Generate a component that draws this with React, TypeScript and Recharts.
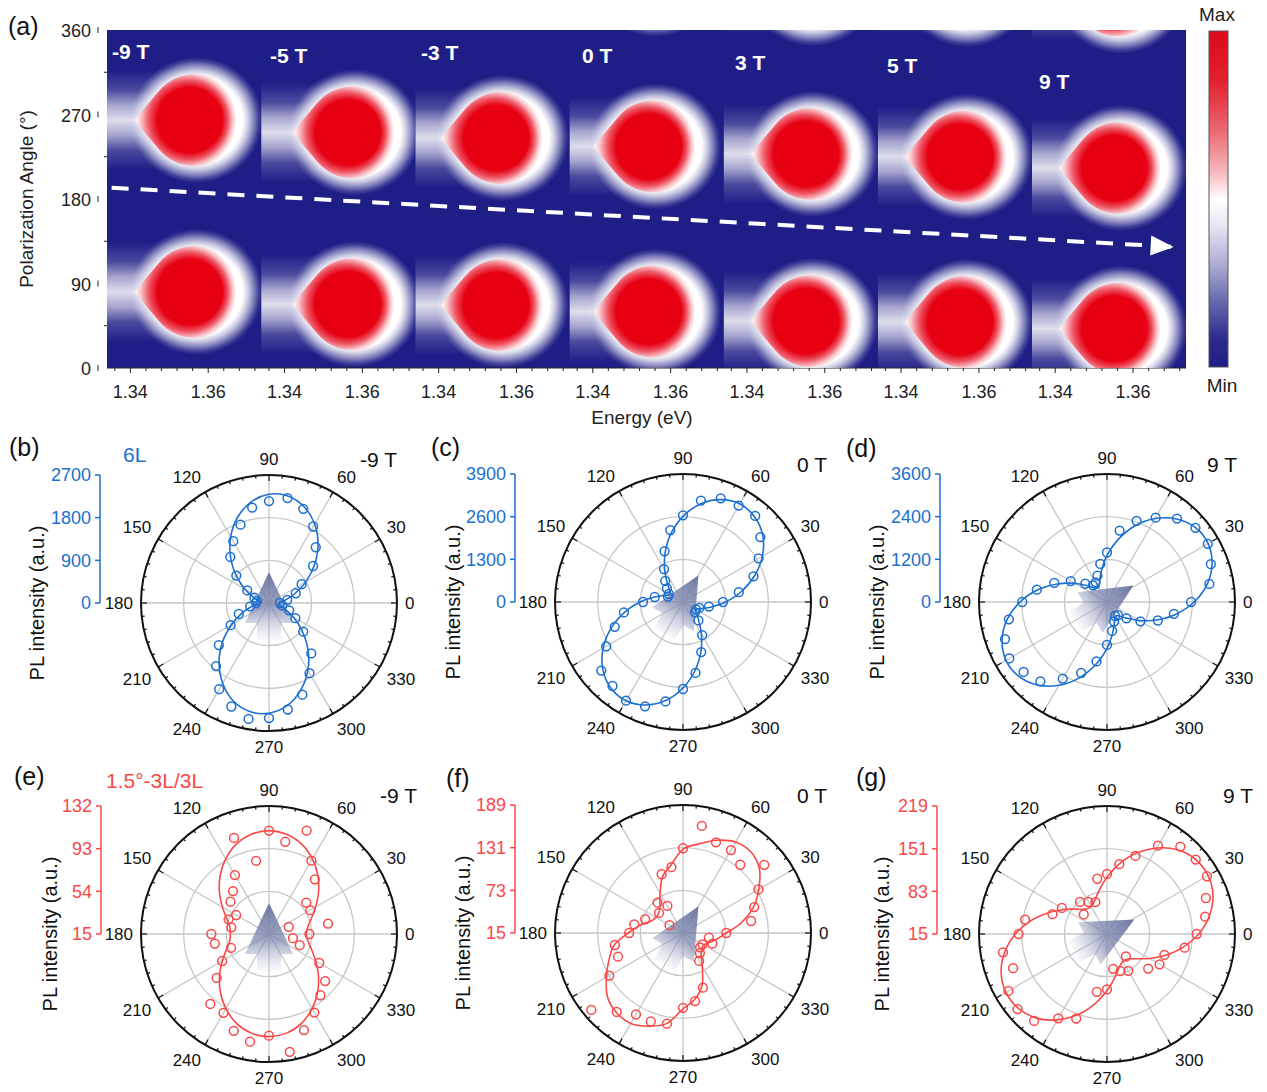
import React from "react";
import {
  ScatterChart,
  Scatter,
  XAxis,
  YAxis,
  CartesianGrid,
  RadarChart,
  Radar,
  PolarGrid,
  PolarAngleAxis,
  PolarRadiusAxis,
  LineChart,
  Line,
  Customized,
} from "recharts";

const FONT = '"Liberation Sans", Arial, Helvetica, sans-serif';
const BLUE = "#1b6fd0";
const RED = "#f94848";
const MAP_BG = "#1f1e87";

// ---------- (a) PL maps vs. field ----------
const fields = ["-9 T", "-5 T", "-3 T", "0 T", "3 T", "5 T", "9 T"];
const peakEnergy = [1.3565, 1.3575, 1.356, 1.3556, 1.3564, 1.3564, 1.3564];
const peakAngleLow = [81, 68, 67, 60, 50, 49, 42];
const peakAngleHigh = [264, 251, 245, 236, 228, 225, 213];
const energyTicks = [1.34, 1.36];
const energyMinorTicks = [1.336, 1.344, 1.348, 1.352, 1.356, 1.364, 1.368, 1.372];
const angleTicks = [0, 90, 180, 270, 360];
const angleMinorTicks = [45, 135, 225, 315];
// dashed guide: start and tip, x in panel units, y in degrees
const shiftTrend = [
  { x: 0.03, y: 192, tip: false },
  { x: 6.92, y: 129, tip: true },
];

// ---------- (b)-(g) polar plots ----------
const angleSteps = [
  0, 10, 20, 30, 40, 50, 60, 70, 80, 90, 100, 110, 120, 130, 140, 150, 160, 170,
  180, 190, 200, 210, 220, 230, 240, 250, 260, 270, 280, 290, 300, 310, 320, 330, 340, 350,
];
const angleLabels = [0, 30, 60, 90, 120, 150, 180, 210, 240, 270, 300, 330];

const pl6LNeg9 = [230, 390, 600, 795, 1214, 1535, 1863, 2114, 2247, 2149, 2044, 1758, 1507, 1270, 900, 530, 328, 258, 272, 405, 677, 935, 1381, 1737, 2100, 2323, 2484, 2428, 2281, 2058, 1709, 1388, 942, 642, 453, 286];
const fit6LNeg9 = [225, 350, 585, 900, 1255, 1610, 1925, 2160, 2290, 2295, 2165, 1930, 1615, 1260, 905, 590, 350, 225, 225, 350, 595, 910, 1280, 1640, 1955, 2200, 2325, 2325, 2200, 1955, 1640, 1280, 910, 595, 350, 225];

const pl6L0 = [1219, 1727, 2285, 2661, 3077, 3423, 3392, 3362, 3138, 2641, 2224, 1645, 1158, 843, 640, 498, 488, 873, 1219, 1828, 2214, 2702, 3250, 3341, 3473, 3382, 3077, 2651, 2194, 1625, 1168, 731, 477, 457, 528, 802];
const fit6L0 = [1300, 1800, 2315, 2795, 3170, 3390, 3455, 3320, 3035, 2610, 2115, 1595, 1115, 740, 520, 455, 590, 875, 1305, 1810, 2330, 2810, 3190, 3420, 3475, 3340, 3050, 2620, 2120, 1600, 1120, 745, 520, 460, 590, 875];

const pl6L9 = [2366, 2923, 3108, 3275, 3247, 3062, 2737, 2431, 2041, 1392, 1086, 789, 640, 612, 798, 1178, 1577, 2004, 2384, 2802, 3052, 3173, 3062, 2913, 2487, 2125, 1698, 1206, 826, 585, 455, 482, 714, 1086, 1522, 1911];
const fit6L9 = [2450, 2860, 3145, 3285, 3250, 3050, 2710, 2275, 1780, 1310, 900, 610, 475, 510, 705, 1050, 1485, 1975, 2445, 2855, 3140, 3280, 3245, 3050, 2705, 2270, 1780, 1305, 900, 610, 470, 505, 700, 1045, 1480, 1970];

const plTwNeg9 = [51.9, 69.8, 34.2, 58.6, 59.5, 80.2, 92.4, 115.5, 100.6, 109.5, 82.9, 108.5, 77.2, 66.2, 61.0, 49.7, 54.3, 50.0, 67.7, 65.3, 51.9, 64.4, 77.5, 98.5, 98.2, 109.2, 114.9, 107.9, 124.4, 108.5, 97.9, 88.1, 82.0, 68.0, 44.9, 37.2];
const fitTwNeg9 = [49.1, 51.0, 56.1, 64.1, 74.1, 84.5, 94.2, 102.4, 107.6, 109.5, 107.6, 102.4, 94.2, 84.5, 74.1, 64.1, 56.1, 51.4, 50.3, 51.4, 56.4, 64.3, 74.0, 84.2, 93.8, 101.9, 107.0, 108.8, 107.0, 101.9, 93.8, 84.2, 74.0, 64.3, 56.4, 51.0];

const plTw0 = [73.8, 109.0, 118.0, 133.4, 159.2, 136.1, 145.2, 146.1, 162.8, 130.2, 105.8, 100.0, 57.5, 68.8, 57.5, 36.2, 69.7, 82.3, 88.2, 109.0, 109.0, 130.7, 177.7, 155.1, 142.9, 142.9, 140.2, 116.7, 109.0, 94.1, 58.8, 50.7, 45.3, 45.7, 57.5, 50.7];
const fitTw0 = [73.8, 95.5, 116.7, 133.9, 150.6, 158.7, 157.8, 149.2, 138.0, 128.9, 109.0, 96.4, 77.4, 63.8, 57.9, 57.5, 61.6, 74.7, 89.6, 109.9, 122.1, 135.2, 149.2, 156.0, 156.9, 149.7, 139.8, 118.1, 106.8, 90.9, 67.4, 53.4, 48.4, 47.5, 53.0, 62.0];

const plTw9 = [158.0, 173.8, 182.7, 199.0, 199.6, 196.9, 177.5, 147.5, 128.0, 110.7, 104.4, 69.2, 73.9, 81.8, 63.4, 98.1, 107.5, 147.5, 155.9, 183.3, 174.3, 196.4, 201.1, 195.9, 170.1, 158.5, 108.6, 103.3, 71.3, 78.1, 82.8, 61.8, 100.7, 111.7, 112.3, 140.7];
const fitTw9 = [161.2, 180.6, 194.8, 201.1, 199.6, 190.1, 173.3, 152.2, 128.6, 105.4, 86.0, 71.8, 65.5, 67.1, 76.5, 93.3, 114.4, 138.0, 161.0, 180.4, 194.6, 201.0, 199.4, 190.0, 173.1, 152.0, 128.4, 105.2, 85.8, 71.6, 65.3, 66.9, 76.3, 93.1, 114.2, 137.8];

// orientation of the sketched arrow in the middle of each polar plot
const arrowAngle6L = [90, 60, 32];
const arrowAngleTw = [90, 60, 28];

// ---------- map geometry ----------
const E_START = 1.334;
const E_SPAN = 0.0396;
const MAP_MARGIN = { top: 30, right: 81, bottom: 22, left: 47 };
const PLOT_TOP = 30;
const PLOT_H = 338;
const PLOT_W = 1079;
const PANEL_PX = PLOT_W / fields.length;

const mapPoints = fields.flatMap((_, i) => {
  const x = i + (peakEnergy[i] - E_START) / E_SPAN;
  return [peakAngleLow[i], peakAngleHigh[i], peakAngleLow[i] + 360].map((y, k) => ({
    x,
    y,
    panel: i,
    id: `${i}-${k}`,
  }));
});

const energyTickValues = fields
  .flatMap((_, i) =>
    [...energyTicks, ...energyMinorTicks].map((e) => i + (e - E_START) / E_SPAN)
  )
  .sort((a, b) => a - b);

function EnergyTick(props: any) {
  const { x, y, payload } = props;
  const panel = Math.floor(payload.value);
  const e = E_START + (payload.value - panel) * E_SPAN;
  const major = energyTicks.some((t) => Math.abs(t - e) < 1e-4);
  return (
    <g>
      <line x1={x} x2={x} y1={y} y2={y + (major ? 5 : 3)} stroke="#222" strokeWidth={1} />
      {major && (
        <text x={x} y={y + 30} textAnchor="middle" fontSize={18} fill="#222" fontFamily={FONT}>
          {e.toFixed(2)}
        </text>
      )}
    </g>
  );
}

function AngleTick(props: any) {
  const { x, y, payload } = props;
  const major = angleTicks.includes(payload.value);
  if (!major) return <line x1={x - 3} x2={x} y1={y} y2={y} stroke="#222" />;
  return (
    <g>
      <line x1={x - 9} x2={x - 9} y1={y - 3} y2={y + 3} stroke="#222" />
      <text x={x - 16} y={y + 7} textAnchor="end" fontSize={18} fill="#222" fontFamily={FONT}>
        {payload.value}
      </text>
    </g>
  );
}

// red core with a pointed low-energy side, white rim, soft halo and a tail to the panel edge
const CORE_R = 46;
const APEX = 60;
function PeakBlob(props: any) {
  const { cx, cy, payload } = props;
  if (cx == null || cy == null) return null;
  const left = cx - (payload.x - payload.panel) * PANEL_PX;
  const clipId = `map-clip-${payload.id}`;
  const coreId = `map-core-${payload.id}`;
  const phi = Math.acos(CORE_R / APEX);
  const tx = cx - CORE_R * Math.cos(phi);
  const ty = CORE_R * Math.sin(phi);
  const core =
    `M${cx - APEX},${cy} Q${cx - APEX + 8},${cy - 10} ${tx},${cy - ty} ` +
    `A${CORE_R},${CORE_R} 0 1 1 ${tx},${cy + ty} Q${cx - APEX + 8},${cy + 10} ${cx - APEX},${cy} Z`;
  return (
    <g>
      <defs>
        <clipPath id={clipId}>
          <rect x={left} y={PLOT_TOP} width={PANEL_PX} height={PLOT_H} />
        </clipPath>
        <radialGradient
          id={coreId}
          gradientUnits="userSpaceOnUse"
          cx={cx - 9}
          cy={cy}
          r={51}
          fx={cx + 3}
          fy={cy}
        >
          <stop offset="0" stopColor="#e60012" />
          <stop offset="0.64" stopColor="#e60012" />
          <stop offset="0.77" stopColor="#ee5160" />
          <stop offset="0.9" stopColor="#f8c6cb" />
          <stop offset="1" stopColor="#ffffff" />
        </radialGradient>
      </defs>
      <g clipPath={`url(#${clipId})`}>
        <rect x={left} y={cy - 50} width={cx - left} height={100} fill="url(#tailGrad)" />
        <ellipse cx={cx + 2} cy={cy} rx={66} ry={63} fill="url(#haloGrad)" />
        <path d={core} fill={`url(#${coreId})`} />
      </g>
    </g>
  );
}

function TrendTip(props: any) {
  const { cx, cy, payload } = props;
  if (!payload || !payload.tip) return <g />;
  return (
    <polygon
      points="0,0 -23,-10 -23,10"
      transform={`translate(${cx},${cy}) rotate(3.2)`}
      fill="#fff"
    />
  );
}

function FieldMaps() {
  return (
    <div style={{ position: "absolute", left: 0, top: 0 }}>
      <ScatterChart width={1267} height={440} margin={MAP_MARGIN}>
        <CartesianGrid horizontal={false} vertical={false} fill={MAP_BG} fillOpacity={1} />
        <XAxis
          type="number"
          dataKey="x"
          domain={[0, 7]}
          ticks={energyTickValues}
          interval={0}
          height={50}
          allowDataOverflow
          tickSize={0}
          tickMargin={0}
          tickLine={false}
          axisLine={{ stroke: "#222", strokeWidth: 1.2 }}
          tick={<EnergyTick />}
        />
        <YAxis
          type="number"
          dataKey="y"
          domain={[0, 360]}
          ticks={[...angleTicks, ...angleMinorTicks].sort((a, b) => a - b)}
          interval={0}
          width={60}
          allowDataOverflow
          tickSize={0}
          tickMargin={0}
          tickLine={false}
          axisLine={false}
          tick={<AngleTick />}
        />
        <Scatter data={mapPoints} shape={<PeakBlob />} isAnimationActive={false} />
        <Scatter
          data={shiftTrend}
          shape={<TrendTip />}
          line={{ stroke: "#ffffff", strokeWidth: 4, strokeDasharray: "17 12" }}
          lineType="joint"
          isAnimationActive={false}
        />
      </ScatterChart>
    </div>
  );
}

// ---------- polar panels ----------
const R = 128;

function SmoothLoop(props: any) {
  const pts = props.points as { x: number; y: number }[];
  if (!pts || pts.length < 3) return null;
  const n = pts.length;
  let d = `M${pts[0].x},${pts[0].y}`;
  for (let i = 0; i < n; i++) {
    const p0 = pts[(i - 1 + n) % n];
    const p1 = pts[i];
    const p2 = pts[(i + 1) % n];
    const p3 = pts[(i + 2) % n];
    const c1x = p1.x + (p2.x - p0.x) / 6;
    const c1y = p1.y + (p2.y - p0.y) / 6;
    const c2x = p2.x - (p3.x - p1.x) / 6;
    const c2y = p2.y - (p3.y - p1.y) / 6;
    d += ` C${c1x},${c1y} ${c2x},${c2y} ${p2.x},${p2.y}`;
  }
  return <path d={d + "Z"} fill="none" stroke={props.color} strokeWidth={1.6} />;
}

function AngleLabel(props: any) {
  const { x, y, payload } = props;
  const a = (payload.value * Math.PI) / 180;
  const c = Math.cos(a);
  const s = Math.sin(a);
  const anchor = c > 0.2 ? "start" : c < -0.2 ? "end" : "middle";
  const dy = s > 0.2 ? -2 : s < -0.2 ? 14 : 6;
  return (
    <text x={x} y={y + dy} textAnchor={anchor} fontSize={17} fill="#111" fontFamily={FONT}>
      {payload.value}
    </text>
  );
}

function CenterArrow({ cx, cy, angle }: { cx: number; cy: number; angle: number }) {
  return (
    <polygon
      points="31,0 -20,-24 -20,-12 -37,-12 -37,12 -20,12 -20,24"
      transform={`translate(${cx},${cy}) rotate(${-angle})`}
      fill="url(#arrowGrad)"
    />
  );
}

function PolarFrame({ cx, cy }: { cx: number; cy: number }) {
  const marks = [];
  for (let a = 0; a < 360; a += 6) {
    const t = (a * Math.PI) / 180;
    const len = a % 30 === 0 ? 6 : 3;
    marks.push(
      <line
        key={a}
        x1={cx + R * Math.cos(t)}
        y1={cy - R * Math.sin(t)}
        x2={cx + (R - len) * Math.cos(t)}
        y2={cy - (R - len) * Math.sin(t)}
        stroke="#111"
        strokeWidth={1.2}
      />
    );
  }
  return (
    <g>
      <circle cx={cx} cy={cy} r={R} fill="none" stroke="#111" strokeWidth={2} />
      {marks}
    </g>
  );
}

type PolarProps = {
  left: number;
  top: number;
  cx: number;
  cy: number;
  obs: number[];
  fit: number[];
  domain: [number, number];
  ticks: number[];
  color: string;
  arrowAngle: number;
  axisX: number;
};

function IntensityAxis({ domain, ticks, color }: { domain: [number, number]; ticks: number[]; color: string }) {
  const axisW = 70;
  const scaleData = ticks.map((t, i) => ({ i, v: t }));
  return (
    <LineChart
      width={axisW + 40}
      height={R + 20}
      data={scaleData}
      margin={{ top: 10, right: 40, bottom: 10, left: 0 }}
    >
      <XAxis dataKey="i" hide />
      <YAxis
        type="number"
        domain={domain}
        ticks={ticks}
        interval={0}
        width={axisW}
        tickSize={5}
        tickMargin={4}
        axisLine={{ stroke: color, strokeWidth: 1.5 }}
        tickLine={{ stroke: color, strokeWidth: 1.5 }}
        tick={{ fill: color, fontSize: 18, fontFamily: FONT }}
      />
      <Line dataKey="v" stroke="none" dot={false} isAnimationActive={false} />
    </LineChart>
  );
}

function PolarPanel({ left, top, cx, cy, obs, fit, domain, ticks, color, arrowAngle, axisX }: PolarProps) {
  const data = angleSteps.map((a, i) => ({ angle: a, obs: obs[i], fit: fit[i] }));
  return (
    <>
      <div style={{ position: "absolute", left, top }}>
        <RadarChart
          width={427}
          height={330}
          cx={cx}
          cy={cy}
          outerRadius={R}
          startAngle={0}
          endAngle={360}
          data={data}
          margin={{ top: 0, right: 0, bottom: 0, left: 0 }}
        >
          <PolarGrid
            gridType="circle"
            polarAngles={angleLabels}
            polarRadius={[R / 3, (2 * R) / 3]}
            stroke="#c6c6c6"
            strokeWidth={1.3}
          />
          <PolarAngleAxis
            dataKey="angle"
            type="number"
            scale="linear"
            domain={[0, 360]}
            ticks={angleLabels}
            axisLine={false}
            tickLine={false}
            tick={<AngleLabel />}
          />
          <PolarRadiusAxis
            type="number"
            domain={domain}
            allowDataOverflow
            tick={false}
            axisLine={false}
          />
          <Customized component={() => <CenterArrow cx={cx} cy={cy} angle={arrowAngle} />} />
          <Radar
            dataKey="fit"
            stroke={color}
            fill="none"
            fillOpacity={0}
            isAnimationActive={false}
            shape={(p: any) => <SmoothLoop {...p} color={color} />}
          />
          <Radar
            dataKey="obs"
            stroke="none"
            fill="none"
            fillOpacity={0}
            isAnimationActive={false}
            dot={(p: any) => (
              <circle
                key={`dot-${p.index}`}
                cx={p.cx}
                cy={p.cy}
                r={4.4}
                fill="none"
                stroke={color}
                strokeWidth={1.5}
              />
            )}
          />
          <Customized component={() => <PolarFrame cx={cx} cy={cy} />} />
        </RadarChart>
      </div>
      <div style={{ position: "absolute", left: axisX - 70, top: top + cy - R - 10 }}>
        <IntensityAxis domain={domain} ticks={ticks} color={color} />
      </div>
    </>
  );
}

function Defs() {
  return (
    <svg width={0} height={0} style={{ position: "absolute" }}>
      <defs>
        <radialGradient id="haloGrad" cx="0.5" cy="0.5" r="0.5">
          <stop offset="0" stopColor="#ffffff" stopOpacity={1} />
          <stop offset="0.7" stopColor="#ffffff" stopOpacity={1} />
          <stop offset="0.78" stopColor="#ffffff" stopOpacity={0.78} />
          <stop offset="0.87" stopColor="#ffffff" stopOpacity={0.45} />
          <stop offset="0.94" stopColor="#ffffff" stopOpacity={0.16} />
          <stop offset="1" stopColor="#ffffff" stopOpacity={0} />
        </radialGradient>
        <linearGradient id="tailGrad" x1="0" y1="0" x2="0" y2="1">
          <stop offset="0" stopColor="#ffffff" stopOpacity={0} />
          <stop offset="0.2" stopColor="#ffffff" stopOpacity={0.2} />
          <stop offset="0.35" stopColor="#ffffff" stopOpacity={0.6} />
          <stop offset="0.5" stopColor="#ffffff" stopOpacity={0.85} />
          <stop offset="0.65" stopColor="#ffffff" stopOpacity={0.6} />
          <stop offset="0.8" stopColor="#ffffff" stopOpacity={0.2} />
          <stop offset="1" stopColor="#ffffff" stopOpacity={0} />
        </linearGradient>
        <linearGradient id="arrowGrad" x1="1" y1="0" x2="0" y2="0">
          <stop offset="0" stopColor="#65709e" stopOpacity={0.95} />
          <stop offset="0.55" stopColor="#7b84ad" stopOpacity={0.7} />
          <stop offset="1" stopColor="#b9bfd6" stopOpacity={0.1} />
        </linearGradient>
        <linearGradient id="scaleGrad" x1="0" y1="0" x2="0" y2="1">
          <stop offset="0" stopColor="#dc0a1e" />
          <stop offset="0.15" stopColor="#e2202f" />
          <stop offset="0.3" stopColor="#ec6a74" />
          <stop offset="0.42" stopColor="#f6b8bd" />
          <stop offset="0.5" stopColor="#ffffff" />
          <stop offset="0.58" stopColor="#e6e6f2" />
          <stop offset="0.7" stopColor="#a9a9d2" />
          <stop offset="0.82" stopColor="#5f5fa8" />
          <stop offset="0.92" stopColor="#2a2a8c" />
          <stop offset="1" stopColor={MAP_BG} />
        </linearGradient>
      </defs>
    </svg>
  );
}

function Annotations() {
  const t = { fontFamily: FONT } as const;
  const fieldPos = [
    [112, 59],
    [270, 63],
    [421, 60],
    [582, 63],
    [735, 70],
    [887, 73],
    [1039, 89],
  ];
  const plLabels = [
    [37, 603],
    [453, 602],
    [877, 602],
    [50, 934],
    [463, 933],
    [882, 934],
  ];
  return (
    <svg
      width={1267}
      height={1092}
      style={{ position: "absolute", left: 0, top: 0, pointerEvents: "none" }}
    >
      {fields.map((f, i) => (
        <text key={f} x={fieldPos[i][0]} y={fieldPos[i][1]} fontSize={21} fontWeight="bold" fill="#fff" {...t}>
          {f}
        </text>
      ))}
      <text x={8} y={35} fontSize={25} fill="#111" {...t}>(a)</text>
      <text x={9} y={456} fontSize={25} fill="#111" {...t}>(b)</text>
      <text x={431} y={456} fontSize={25} fill="#111" {...t}>(c)</text>
      <text x={846} y={457} fontSize={25} fill="#111" {...t}>(d)</text>
      <text x={14} y={785} fontSize={25} fill="#111" {...t}>(e)</text>
      <text x={446} y={787} fontSize={25} fill="#111" {...t}>(f)</text>
      <text x={856} y={786} fontSize={25} fill="#111" {...t}>(g)</text>

      <text
        x={26}
        y={199}
        fontSize={19}
        fill="#222"
        textAnchor="middle"
        dominantBaseline="central"
        transform="rotate(-90 26 199)"
        {...t}
      >
        Polarization Angle (°)
      </text>
      <text x={642} y={424} fontSize={19} fill="#222" textAnchor="middle" {...t}>
        Energy (eV)
      </text>

      <rect x={1209} y={31} width={19} height={336} fill="url(#scaleGrad)" stroke="#555" strokeWidth={1} />
      <text x={1217} y={21} fontSize={19} fill="#222" textAnchor="middle" {...t}>Max</text>
      <text x={1222} y={392} fontSize={19} fill="#222" textAnchor="middle" {...t}>Min</text>

      {plLabels.map(([x, y], i) => (
        <text
          key={i}
          x={x}
          y={y}
          fontSize={20}
          fill="#111"
          textAnchor="middle"
          dominantBaseline="central"
          transform={`rotate(-90 ${x} ${y})`}
          {...t}
        >
          PL intensity (a.u.)
        </text>
      ))}

      <text x={123} y={462} fontSize={21} fill={BLUE} {...t}>6L</text>
      <text x={106} y={788} fontSize={21} fill={RED} {...t}>1.5°-3L/3L</text>

      <text x={360} y={467} fontSize={21} fill="#111" {...t}>-9 T</text>
      <text x={797} y={472} fontSize={21} fill="#111" {...t}>0 T</text>
      <text x={1207} y={472} fontSize={21} fill="#111" {...t}>9 T</text>
      <text x={380} y={803} fontSize={21} fill="#111" {...t}>-9 T</text>
      <text x={797} y={803} fontSize={21} fill="#111" {...t}>0 T</text>
      <text x={1223} y={803} fontSize={21} fill="#111" {...t}>9 T</text>
    </svg>
  );
}

export default function App() {
  return (
    <div
      style={{
        position: "relative",
        width: 1267,
        height: 1092,
        background: "#fff",
        fontFamily: FONT,
        overflow: "hidden",
      }}
    >
      <style>{"body{margin:0;}"}</style>
      <Defs />
      <FieldMaps />

      <PolarPanel left={0} top={430} cx={269} cy={173} obs={pl6LNeg9} fit={fit6LNeg9}
        domain={[0, 2700]} ticks={[0, 900, 1800, 2700]} color={BLUE} arrowAngle={arrowAngle6L[0]} axisX={100} />
      <PolarPanel left={420} top={430} cx={263} cy={172} obs={pl6L0} fit={fit6L0}
        domain={[0, 3900]} ticks={[0, 1300, 2600, 3900]} color={BLUE} arrowAngle={arrowAngle6L[1]} axisX={515} />
      <PolarPanel left={840} top={430} cx={267} cy={172} obs={pl6L9} fit={fit6L9}
        domain={[0, 3600]} ticks={[0, 1200, 2400, 3600]} color={BLUE} arrowAngle={arrowAngle6L[2]} axisX={940} />

      <PolarPanel left={0} top={760} cx={269} cy={174} obs={plTwNeg9} fit={fitTwNeg9}
        domain={[15, 132]} ticks={[15, 54, 93, 132]} color={RED} arrowAngle={arrowAngleTw[0]} axisX={101} />
      <PolarPanel left={420} top={760} cx={263} cy={173} obs={plTw0} fit={fitTw0}
        domain={[15, 189]} ticks={[15, 73, 131, 189]} color={RED} arrowAngle={arrowAngleTw[1]} axisX={515} />
      <PolarPanel left={840} top={760} cx={267} cy={174} obs={plTw9} fit={fitTw9}
        domain={[15, 219]} ticks={[15, 83, 151, 219]} color={RED} arrowAngle={arrowAngleTw[2]} axisX={937} />

      <Annotations />
    </div>
  );
}
